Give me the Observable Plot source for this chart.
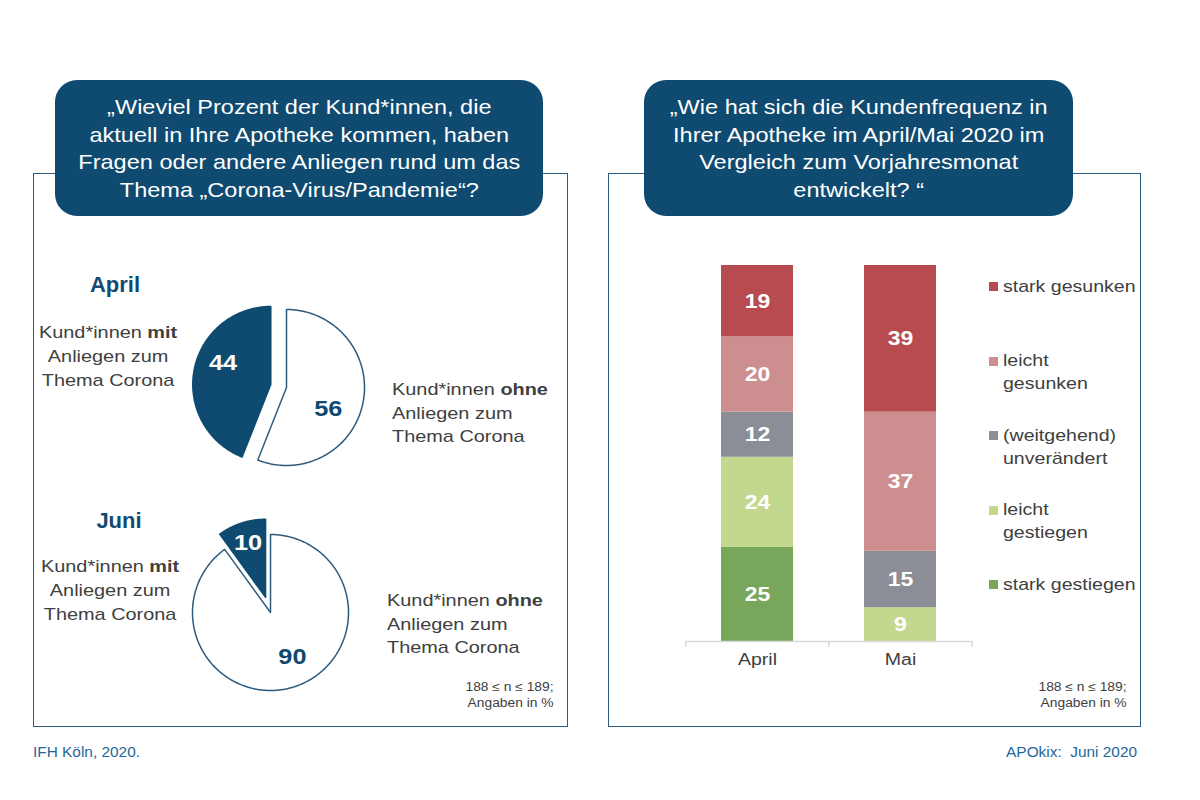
<!DOCTYPE html>
<html><head><meta charset="utf-8">
<script src="https://cdn.jsdelivr.net/npm/d3@7"></script>
<script src="https://cdn.jsdelivr.net/npm/@observablehq/plot@0.6"></script>
<style>
body{margin:0;background:#fff;font-family:"Liberation Sans",Arial,sans-serif;}
#page{position:relative;width:1200px;height:800px;overflow:hidden;background:#fff;}
.panel{position:absolute;border:1.5px solid #2c5b80;box-sizing:border-box;}
.header{position:absolute;background:#0f4a70;border-radius:22px;color:#fff;font-size:21px;line-height:27.5px;text-align:center;display:flex;align-items:center;justify-content:center;}
.header span{display:inline-block;transform:scaleX(1.12);transform-origin:center;white-space:nowrap;}
.lbl{position:absolute;font-size:17px;line-height:23.5px;color:#404040;white-space:nowrap;}
.lbl span{display:inline-block;transform:scaleX(1.17);}
.lbl.l span{transform-origin:left center;}
.lbl.c span{transform-origin:center;}
.ptitle{position:absolute;font-size:22px;line-height:26px;font-weight:bold;color:#124a72;text-align:center;}
.note{position:absolute;font-size:12px;line-height:16px;color:#404040;text-align:right;white-space:nowrap;}
.note span{display:inline-block;transform:scaleX(1.15);transform-origin:right center;}
.foot{position:absolute;font-size:14px;line-height:18px;color:#23679a;white-space:nowrap;}
.foot span{display:inline-block;transform:scaleX(1.1);}
.leg{position:absolute;font-size:17px;line-height:23px;color:#404040;white-space:nowrap;}
.leg span{display:inline-block;transform:scaleX(1.15);transform-origin:left center;}
.sw{position:absolute;width:9px;height:9px;}
.chart{position:absolute;}
</style></head>
<body>
<div id="page">
  <div class="panel" style="left:33px;top:173px;width:535px;height:554px;"></div>
  <div class="panel" style="left:608px;top:173px;width:533px;height:554px;"></div>
  <div class="header" style="left:55px;top:80px;width:488px;height:136px;"><span>„Wieviel Prozent der Kund*innen, die<br>aktuell in Ihre Apotheke kommen, haben<br>Fragen oder andere Anliegen rund um das<br>Thema „Corona-Virus/Pandemie“?</span></div>
  <div class="header" style="left:644px;top:80px;width:429px;height:136px;"><span>„Wie hat sich die Kundenfrequenz in<br>Ihrer Apotheke im April/Mai 2020 im<br>Vergleich zum Vorjahresmonat<br>entwickelt? “</span></div>

  <div class="ptitle" id="t0" style="left:65px;top:272px;width:100px;"></div>
  <div class="ptitle" id="t1" style="left:69px;top:508px;width:100px;"></div>

  <div class="lbl c" style="left:20px;top:321px;width:177px;text-align:center;line-height:24px;"><span>Kund*innen <b>mit</b><br>Anliegen zum<br>Thema Corona</span></div>
  <div class="lbl l" style="left:392px;top:378px;line-height:23.5px;"><span>Kund*innen <b>ohne</b><br>Anliegen zum<br>Thema Corona</span></div>
  <div class="lbl c" style="left:22px;top:555px;width:177px;text-align:center;line-height:24px;"><span>Kund*innen <b>mit</b><br>Anliegen zum<br>Thema Corona</span></div>
  <div class="lbl l" style="left:387px;top:589px;line-height:23.5px;"><span>Kund*innen <b>ohne</b><br>Anliegen zum<br>Thema Corona</span></div>

  <div class="note" style="right:646px;top:679px;"><span>188 ≤ n ≤ 189;<br>Angaben in %</span></div>
  <div class="note" style="right:73px;top:679px;"><span>188 ≤ n ≤ 189;<br>Angaben in %</span></div>

  <div class="foot" style="left:33px;top:743px;"><span style="transform-origin:left center;">IFH Köln, 2020.</span></div>
  <div class="foot" style="right:63px;top:743px;"><span style="transform-origin:right center;">APOkix:&nbsp; Juni 2020</span></div>

  <div id="pie0" class="chart" style="left:186px;top:287px;"></div>
  <div id="pie1" class="chart" style="left:170px;top:512px;"></div>
  <div id="bars" class="chart" style="left:640px;top:240px;"></div>
  <div id="legend"></div>
</div>
<script>
// ---------- data ----------
const pieTitles = ["April", "Juni"];
const pieSegments = ["ohne", "mit"];          // clockwise from 12 o'clock
const pieApril = [56, 44];
const pieJuni = [90, 10];

const barMonths = ["April", "Mai"];
const barCategories = ["stark gestiegen", "leicht gestiegen", "(weitgehend) unverändert", "leicht gesunken", "stark gesunken"]; // bottom → top
const barApril = [25, 24, 12, 20, 19];
const barMai = [0, 9, 15, 37, 39];
const legendLabels = ["stark gesunken", "leicht\ngesunken", "(weitgehend)\nunverändert", "leicht\ngestiegen", "stark gestiegen"]; // top → bottom

// ---------- style ----------
const dark = "#0f4a70";
const outline = "#2c5b80";
const barColors = ["#78a65a", "#c3d88f", "#8c8e97", "#cc8e8e", "#b84b50"];
const font = "Liberation Sans, Arial, sans-serif";
const STRETCH = 1.15;

function stretchText(svg, k) {
  svg.querySelectorAll("text").forEach(t => {
    const tr = t.getAttribute("transform");
    if (tr) t.setAttribute("transform", tr + ` scale(${k},1)`);
    else {
      const x = +t.getAttribute("x") || 0, y = +t.getAttribute("y") || 0;
      t.setAttribute("transform", `translate(${x},${y}) scale(${k},1) translate(${-x},${-y})`);
    }
  });
  return svg;
}

// ---------- pies ----------
const R = 78, S = 200, U = (S / 2) / R, explode = 16 / R;
function slicePoints(a, off) {
  const mid = (a.startAngle + a.endAngle) / 2;
  const ox = off * Math.sin(mid), oy = off * Math.cos(mid);
  const pts = [{x: ox, y: oy}];
  const n = Math.max(2, Math.ceil((a.endAngle - a.startAngle) / (Math.PI / 180)));
  for (let i = 0; i <= n; i++) {
    const t = a.startAngle + (a.endAngle - a.startAngle) * i / n;
    pts.push({x: ox + Math.sin(t), y: oy + Math.cos(t)});
  }
  return pts;
}
// label placement per slice: radius (in pie radii) and angular shift (degrees)
function pie(values, labelPos) {
  const arcs = d3.pie().sort(null)(values);
  const marks = [];
  arcs.forEach((a, i) => {
    const isMit = pieSegments[i] === "mit";
    const off = isMit ? explode : 0;
    const mid = (a.startAngle + a.endAngle) / 2;
    marks.push(Plot.line(slicePoints(a, off), {
      x: "x", y: "y", curve: "linear-closed",
      fill: isMit ? dark : "#fff", stroke: isMit ? dark : outline, strokeWidth: 1.5
    }));
    const la = mid + labelPos[i].dA * Math.PI / 180, lr = labelPos[i].r;
    marks.push(Plot.text([{
      x: off * Math.sin(mid) + lr * Math.sin(la),
      y: off * Math.cos(mid) + lr * Math.cos(la),
      t: String(values[i])
    }], {
      x: "x", y: "y", text: "t", fill: isMit ? "#fff" : dark,
      fontSize: 22, fontWeight: "bold"
    }));
  });
  return stretchText(Plot.plot({
    width: S, height: S, margin: 0,
    x: {domain: [-U, U], axis: null}, y: {domain: [-U, U], axis: null},
    style: {fontFamily: font, background: "transparent", overflow: "visible"},
    marks
  }), STRETCH);
}
document.getElementById("t0").textContent = pieTitles[0];
document.getElementById("t1").textContent = pieTitles[1];
document.getElementById("pie0").append(pie(pieApril, [{r: 0.60, dA: 16}, {r: 0.67, dA: 13}]));
document.getElementById("pie1").append(pie(pieJuni, [{r: 0.64, dA: -8}, {r: 0.73, dA: 0}]));

// ---------- bars ----------
const rows = [];
barMonths.forEach((m, mi) => {
  const vals = mi === 0 ? barApril : barMai;
  barCategories.forEach((c, ci) => rows.push({month: m, category: c, value: vals[ci]}));
});
const W = 520, H = 450, mL = 45, mR = 188, mT = 25, mB = 49;
const step = (W - mL - mR) / 2;
const tickUnits = 6 / (H - mT - mB) * 100;
const barsPlot = Plot.plot({
  width: W, height: H, marginLeft: mL, marginRight: mR, marginTop: mT, marginBottom: mB,
  x: {domain: barMonths, paddingInner: 0.5, paddingOuter: 0.25, axis: null},
  y: {domain: [0, 100], axis: null},
  color: {domain: barCategories, range: barColors},
  style: {fontFamily: font, background: "transparent", overflow: "visible"},
  marks: [
    Plot.barY(rows, {x: "month", y: "value", fill: "category", order: barCategories}),
    Plot.text(rows, Plot.stackY({x: "month", y: "value", z: "category", order: barCategories,
      text: d => d.value > 0 ? String(d.value) : "", fill: "#fff", fontSize: 20, fontWeight: "bold"})),
    Plot.ruleY([0], {stroke: "#d9d9d9", strokeWidth: 1.5}),
    Plot.ruleX(barMonths, {x: d => d, dx: -step / 2, y1: 0, y2: -tickUnits, stroke: "#d9d9d9", strokeWidth: 1.5}),
    Plot.ruleX([barMonths[barMonths.length - 1]], {x: d => d, dx: step / 2, y1: 0, y2: -tickUnits, stroke: "#d9d9d9", strokeWidth: 1.5}),
    Plot.axisX({tickSize: 0, tickPadding: 11, fontSize: 17, fill: "#404040", label: null})
  ]
});
document.getElementById("bars").append(stretchText(barsPlot, STRETCH));

// ---------- legend ----------
const legend = document.getElementById("legend");
legendLabels.forEach((lab, i) => {
  const cat = barCategories[barCategories.length - 1 - i];
  const top = 286 + i * 74.5;
  const sw = document.createElement("div");
  sw.className = "sw";
  sw.style.left = "989px"; sw.style.top = (top - 4) + "px";
  sw.style.background = barColors[barCategories.indexOf(cat)];
  legend.append(sw);
  const t = document.createElement("div");
  t.className = "leg";
  t.style.left = "1003px"; t.style.top = (top - 11.5) + "px";
  t.innerHTML = "<span>" + lab.split("\n").join("<br>") + "</span>";
  legend.append(t);
});
</script>
</body></html>
